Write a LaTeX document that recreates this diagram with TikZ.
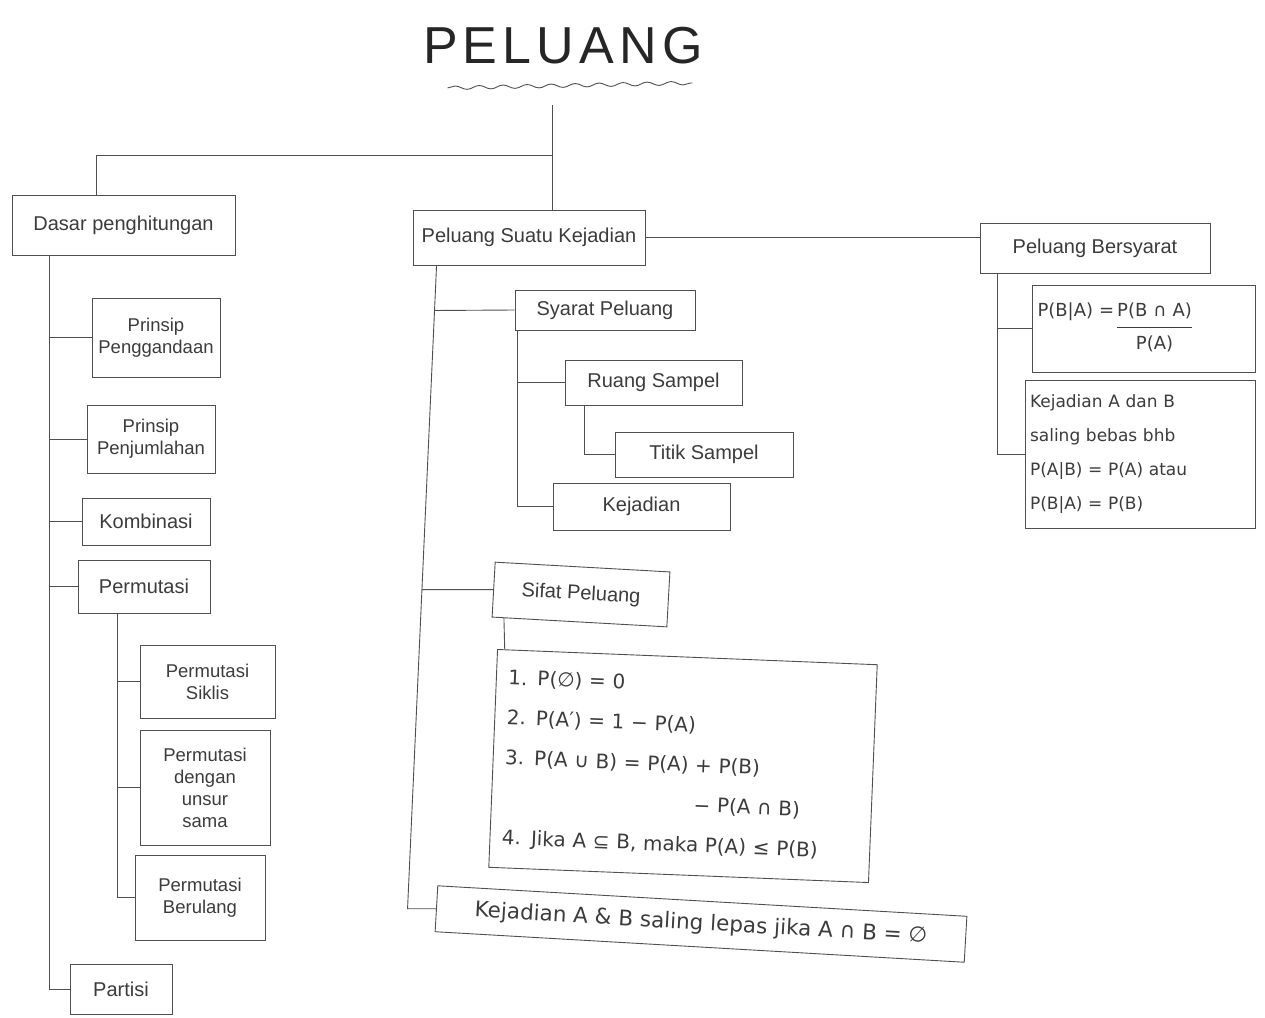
\documentclass[tikz,border=0pt]{standalone}
\usepackage{fontspec}
\setmainfont{Liberation Sans}
\newfontfamily\symf{DejaVu Sans}
\newfontfamily\titlef[LetterSpace=10]{Liberation Sans}
\usetikzlibrary{calc,decorations.pathmorphing}
\definecolor{ink}{HTML}{505050}
\definecolor{txt}{HTML}{3C3C3C}
\begin{document}
\begin{tikzpicture}[x=1pt,y=-1pt,
  box/.style={draw=ink, line width=0.9pt, rectangle, align=center, text=txt, inner sep=3pt, font=\fontsize{20}{24}\selectfont},
  sbox/.style={box, font=\fontsize{18.5}{22}\selectfont},
  fbox/.style={box, align=left, font=\symf\fontsize{18}{22}\selectfont},
  wh/.style 2 args={minimum width=#1pt, minimum height=#2pt},
  link/.style={draw=ink, line width=0.9pt}]
\useasboundingbox[fill=white] (0,0) rectangle (1265,1017);

% title
\node[font=\titlef\fontsize{52}{60}\selectfont, text=black!85] (title) at (563,46) {PELUANG};
\draw[ink, line width=0.9pt, decorate, decoration={snake, amplitude=1.8pt, segment length=24pt}]
  ($(title.south west)+(28,20)$) -- ($(title.south east)+(-14,15)$);

% left branch
\node[box, wh={223}{60}] (dasar) at (123.5,225) {Dasar penghitungan};
\node[sbox, wh={128}{79}] (pkali) at (156,337.5) {Prinsip\\Penggandaan};
\node[sbox, wh={128}{68}] (pjum) at (151,439) {Prinsip\\Penjumlahan};
\node[box, wh={128}{47}] (komb) at (146,521.5) {Kombinasi};
\node[box, wh={132}{53}] (perm) at (144,586.5) {Permutasi};
\node[sbox, wh={135}{73}] (psik) at (207.5,681.5) {Permutasi\\Siklis};
\node[sbox, wh={130}{115}] (psama) at (205,787.5) {Permutasi\\dengan\\unsur\\sama};
\node[sbox, wh={130}{85}] (pber) at (200,897.5) {Permutasi\\Berulang};
\node[box, wh={102}{50}] (part) at (121,989) {Partisi};

% middle branch
\node[box, wh={232}{55}] (psk) at (529,237.5) {Peluang Suatu Kejadian};
\node[box, wh={180}{40}] (syarat) at (605,310) {Syarat Peluang};
\node[box, wh={177}{45}] (ruang) at (653.5,382.5) {Ruang Sampel};
\node[box, wh={178}{45}] (titik) at (704,454.5) {Titik Sampel};
\node[box, wh={177}{47}] (kej) at (641.5,506.5) {Kejadian};
\node[box, wh={175}{55}, rotate=-3.2] (sifat) at (581,594.5) {Sifat Peluang};
\node[fbox, wh={380}{218}, text width=356pt, rotate=-2.3, font=\symf\fontsize{20}{40}\selectfont] (props) at (683,766)
  {1. P(∅) = 0\\
   2. P(A′) = 1 − P(A)\\
   3. P(A ∪ B) = P(A) + P(B)\\
   \phantom{3. P(A ∪ B) = P(A) }− P(A ∩ B)\\
   4. Jika A ⊆ B, maka P(A) ≤ P(B)};
\node[box, wh={530}{46}, rotate=-3.3, font=\symf\fontsize{21.5}{24}\selectfont] (lepas) at (701,924)
  {Kejadian A \& B saling lepas jika A ∩ B = ∅};

% right branch
\node[box, wh={230}{50}] (bers) at (1095,248) {Peluang Bersyarat};
\node[fbox, wh={223}{87}, text width=212pt] (cond) at (1143.5,328.5)
  {\begin{tabular}{@{}l@{\,}c@{}}P(B|A) =&P(B ∩ A)\\[4pt]\cline{2-2}\rule{0pt}{23pt}&P(A)\end{tabular}};
\node[fbox, wh={230}{148}, text width=220pt, font=\symf\fontsize{17}{34}\selectfont] (bebas) at (1140,454)
  {Kejadian A dan B\\saling bebas bhb\\P(A|B) = P(A) atau\\P(B|A) = P(B)};

% top connectors
\coordinate (root) at (552,105);
\coordinate (hub) at (552,155);
\draw[link] (root) -- (root |- psk.north);
\draw[link] (hub) -| ($(dasar.north west)+(85,0)$);

% left spine
\coordinate (ls) at ($(dasar.south west)+(38,0)$);
\draw[link] (ls) |- (part.west);
\foreach \n in {pkali,pjum,komb,perm} \draw[link] (ls |- \n.west) -- (\n.west);
\coordinate (ps) at ($(perm.south west)+(40,0)$);
\draw[link] (ps) |- (pber.west);
\foreach \n in {psik,psama} \draw[link] (ps |- \n.west) -- (\n.west);

% middle spine
\coordinate (mt) at ($(psk.south west)+(24,0)$);
\coordinate (mb) at ($(mt |- lepas.west)+(-29,0)$);
\draw[link] (mt) -- (mb) -- (lepas.west);
\draw[link] ($(mt)!0.07!(mb)$) -- (syarat.west);
\draw[link] ($(mt)!0.504!(mb)$) -- (sifat.west);
\coordinate (ss) at ($(syarat.south west)+(3,0)$);
\draw[link] (ss) |- (kej.west);
\draw[link] (ss |- ruang.west) -- (ruang.west);
\coordinate (rs) at ($(ruang.south west)+(20,0)$);
\draw[link] (rs) |- (titik.west);
\draw[link] ($(sifat.south west)!0.07!(sifat.south east)$) -- ($(props.north west)!0.02!(props.north east)$);

% right spine
\draw[link] (psk.east) -- (psk.east -| bers.west);
\coordinate (bs) at ($(bers.south west)+(18,0)$);
\draw[link] (bs) |- (bebas.west);
\draw[link] (bs |- cond.west) -- (cond.west);
\end{tikzpicture}
\end{document}
